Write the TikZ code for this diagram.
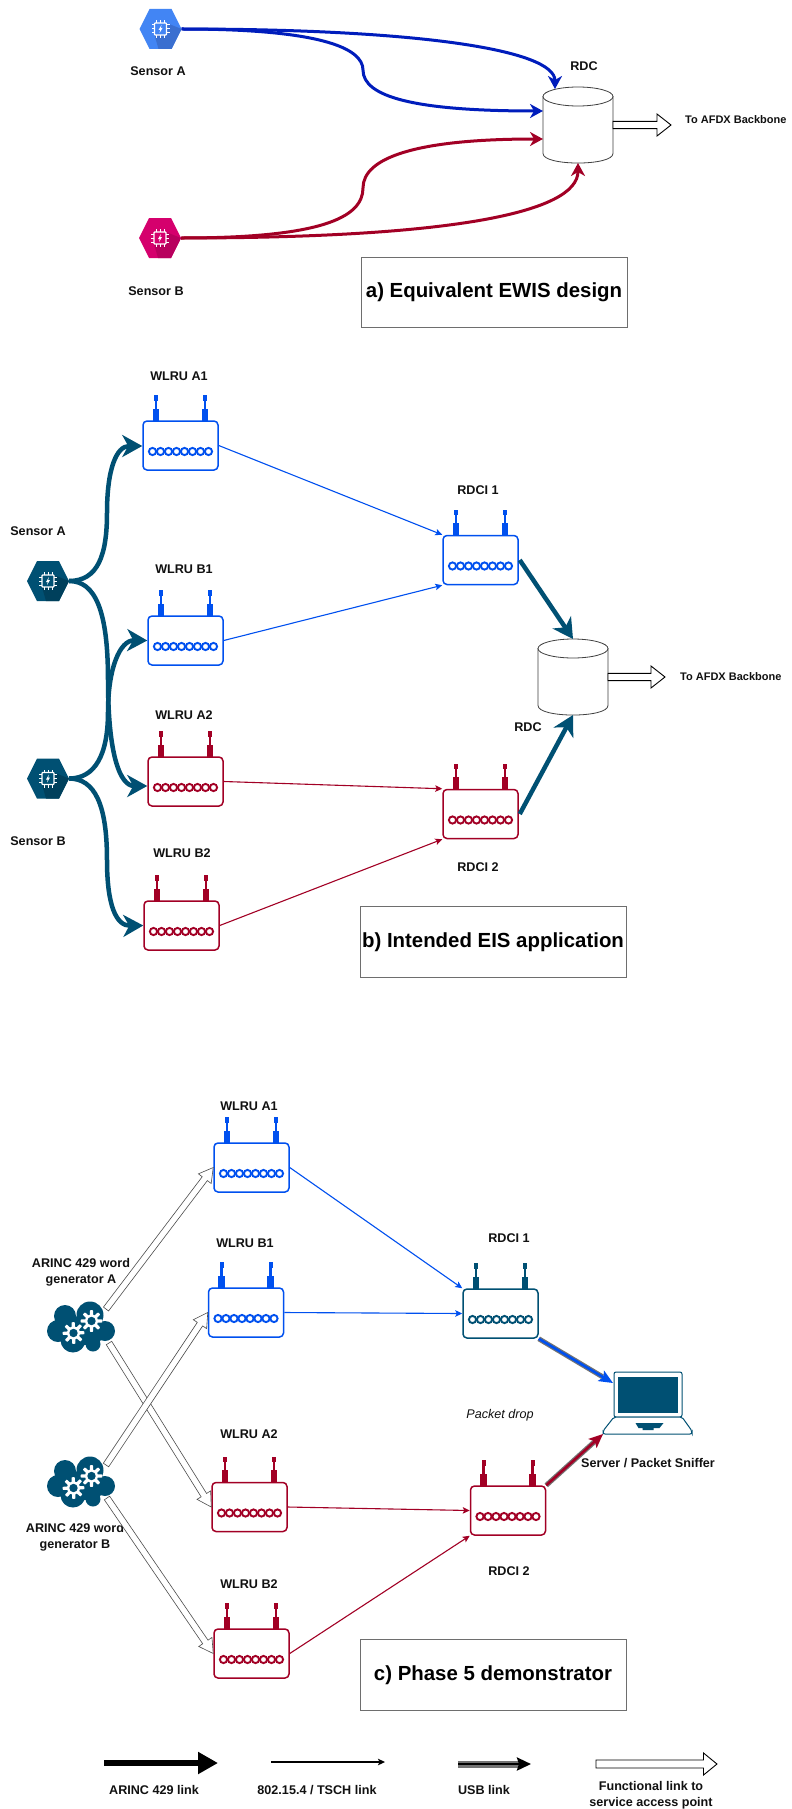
\documentclass[tikz,border=0pt]{standalone}
\usepackage{fontspec}
\setmainfont{Liberation Sans}
\usetikzlibrary{arrows.meta,calc,shapes.geometric}
\definecolor{cblue}{HTML}{0050EF}
\definecolor{cdblue}{HTML}{001DBC}
\definecolor{ccrim}{HTML}{A20025}
\definecolor{cteal}{HTML}{005073}
\definecolor{ctealdk}{HTML}{00405C}
\definecolor{cgblue}{HTML}{4285F4}
\definecolor{cgbluedk}{HTML}{3A6FD0}
\definecolor{cpink}{HTML}{D5006D}
\definecolor{cpinkdk}{HTML}{B8005E}
\definecolor{cbox}{HTML}{6E6E6E}
\definecolor{ctext}{HTML}{111111}
\tikzset{
  x=1pt,y=-1pt,
  lab/.style={font=\bfseries\fontsize{12.6}{16}\selectfont,text=ctext,align=center,inner sep=0pt},
  smalllab/.style={font=\bfseries\fontsize{11}{13.5}\selectfont,text=ctext,align=center,inner sep=0pt},
  title/.style={draw=cbox,line width=.8pt,fill=white,font=\bfseries\fontsize{20.4}{24}\selectfont,text=black,inner sep=0pt,align=center},
  routerbody/.style={rectangle,rounded corners=4pt,line width=1.5pt,fill=white,minimum width=75pt,minimum height=49pt,inner sep=0pt},
  ghost/.style={rectangle,inner sep=0pt,outer sep=0pt},
  wirea/.style={line width=3pt,-{Stealth[length=13pt,width=14pt,inset=4pt]}},
  wireb/.style={cteal,line width=4.5pt,-{Stealth[length=20pt,width=22pt,inset=6pt]}},
  thin/.style={line width=1.1pt,-{Stealth[length=7pt,width=6.5pt,inset=1.5pt]}},
  openline/.style={draw=black,line width=.9pt,fill=white,line join=miter},
  openthin/.style={draw=black!70,line width=.6pt,fill=white,line join=miter},
  cylline/.style={draw=black!75,line width=.8pt,fill=white},
}
% router: name, x, y, colour
\newcommand{\router}[4]{%
  \begin{scope}[shift={(#2,#3)}]
    \foreach \s in {-1,1}{%
      \fill[#4] ({\s*24.5-3.3},-24) rectangle ({\s*24.5+3.3},-37);
      \fill[#4] ({\s*24.5-1.3},-36) rectangle ({\s*24.5+1.3},-46);
      \fill[#4] ({\s*24.5-2},-45) rectangle ({\s*24.5+2},-50.5);
    }
  \end{scope}
  \node[routerbody,draw=#4] (#1) at (#2,#3) {};
  \begin{scope}[shift={(#2,#3)}]
    \foreach \k in {0,...,7}{%
      \draw[#4,line width=1.9pt,fill=white] ({-28+8*\k},6) circle[radius=3.6pt];
    }
  \end{scope}}
% sensor: name, x, y, half width, half flat, colour, dark colour
\newcommand{\sensor}[7]{%
  \node[ghost,minimum width={2*#4pt},minimum height=40pt] (#1) at (#2,#3) {};
  \begin{scope}[shift={(#2,#3)}]
    \fill[#6] (-#4,0) -- (-#5,-20) -- (#5,-20) -- (#4,0) -- (#5,20) -- (-#5,20) -- cycle;
    \fill[#7] (6,-6) -- (#4,0) -- (#5,20) -- (-2,20) -- (-6,6) -- cycle;
    \draw[white,line width=1.2pt,fill=#6,rounded corners=.8pt] (-6,-6) rectangle (6,6);
    \foreach \p in {-4,0,4}{%
      \draw[white,line width=1pt] (\p,-6) -- (\p,-9) (\p,6) -- (\p,9) (-6,\p) -- (-9,\p) (6,\p) -- (9,\p);
    }
    \fill[white] (1,-4) -- (-2,1) -- (-.2,1) -- (-1,4) -- (2,-1) -- (.2,-1) -- cycle;
  \end{scope}}
% cylinder: name, x, y, half width
\newcommand{\cyl}[4]{%
  \node[ghost,minimum width={2*#4pt},minimum height=76pt] (#1) at (#2,#3) {};
  \begin{scope}[shift={(#2,#3)}]
    \path[cylline] (-#4,-28.5) -- (-#4,28.5) .. controls (-#4,41.2) and (#4,41.2) .. (#4,28.5) -- (#4,-28.5) -- cycle;
    \path[cylline] (0,-28.5) ellipse[x radius=#4pt,y radius=9.5pt];
  \end{scope}}
% gear
\newcommand{\gear}[3]{%
  \fill[white] plot[domain=0:360,samples=121,variable=\t] ({#1+(8.6+2.2*max(min(2.2*cos(8*\t+#3),1),-1))*cos(\t)},{#2+(8.6+2.2*max(min(2.2*cos(8*\t+#3),1),-1))*sin(\t)}) -- cycle;
  \fill[cteal] (#1,#2) circle[radius=4.2pt];}
% cloud: name, x, y
\newcommand{\cloudgen}[3]{%
  \node[ghost,minimum width=68pt,minimum height=51pt] (#1) at (#2,#3) {};
  \begin{scope}[shift={(#2,#3)}]
    \fill[cteal] (-16,-11) circle[radius=11pt] (9,-12) circle[radius=13.5pt]
      (24,4) circle[radius=10pt] (-23,4) circle[radius=11pt]
      (-8,13) circle[radius=12.5pt] (12,17) circle[radius=7.5pt]
      (2,3) circle[radius=15pt] (14,3) circle[radius=12pt];
    \gear{10.5}{-6}{0}
    \gear{-7.5}{6}{15}
  \end{scope}}
% open arrow: style, from, to, half shaft, head length, half head
\newcommand{\openarr}[6]{%
  \coordinate (oab) at ($(#3)!#5!(#2)$);
  \path[#1] ($(#2)!#4!90:(#3)$) -- ($(oab)!#4!-90:(#2)$) -- ($(oab)!#6!-90:(#2)$) -- (#3)
    -- ($(oab)!#6!90:(#2)$) -- ($(oab)!#4!90:(#2)$) -- ($(#2)!#4!-90:(#3)$) -- cycle;}
\begin{document}
\begin{tikzpicture}
\path[use as bounding box,fill=white] (0,0) rectangle (792,1809);

% ---------- a)
\sensor{sa}{160.5}{29}{21}{11}{cgblue}{cgbluedk}
\sensor{sb}{160}{238}{21}{11}{cpink}{cpinkdk}
\node[lab] (lsa) at (158,71) {Sensor A};
\node[lab] (lsb) at (156,291) {Sensor B};
\cyl{rdc}{578}{125}{35}
\node[lab] (lrdc) at (584,66) {RDC};
\coordinate (rdcout) at (rdc.east);
\coordinate (afdx) at ($(rdc.east)+(58,0)$);
\openarr{openline}{rdcout}{afdx}{3.6pt}{14pt}{11pt}
\node[smalllab,anchor=west] (lafdx) at (685,120) {To AFDX Backbone};
\draw[wirea,cdblue] (sa.east) .. controls (420,29) and (555,50) .. ($(rdc.north)+(-23,2)$);
\coordinate (am) at (363,70);
\draw[wirea,cdblue] (sa.east) .. controls (320,29) and (363,48) .. (am) .. controls (363,97) and (415,111) .. ($(rdc.west)+(0,-14)$);
\coordinate (bm) at (363,188);
\draw[wirea,ccrim] (sb.east) .. controls (320,238) and (363,218) .. (bm) .. controls (363,158) and (415,139) .. ($(rdc.west)+(0,14)$);
\draw[wirea,ccrim] (sb.east) .. controls (450,238) and (578,213) .. (rdc.south);
\node[title,minimum width=266pt,minimum height=70pt] (ta) at (494,292) {a) Equivalent EWIS design};

% ---------- b)
\router{ra1}{180.5}{445.5}{cblue}
\router{rb1}{185.5}{640.5}{cblue}
\router{ra2}{185.5}{781.5}{ccrim}
\router{rb2}{181.5}{925.5}{ccrim}
\router{ri1}{480.5}{560}{cblue}
\router{ri2}{480.5}{814}{ccrim}
\sensor{hsa}{48}{581}{21}{11}{cteal}{ctealdk}
\sensor{hsb}{48}{778.5}{21}{11}{cteal}{ctealdk}
\node[lab] (l1) at (38,531) {Sensor A};
\node[lab] (l2) at (38,841) {Sensor B};
\node[lab] (l3) at (179,376) {WLRU A1};
\node[lab] (l4) at (184,569) {WLRU B1};
\node[lab] (l5) at (184,715) {WLRU A2};
\node[lab] (l6) at (182,853) {WLRU B2};
\node[lab] (l7) at (478,490) {RDCI 1};
\node[lab] (l8) at (478,867) {RDCI 2};
\cyl{rdcb}{573}{677}{35}
\node[lab] (l9) at (528,727) {RDC};
\coordinate (rdcbout) at (rdcb.east);
\coordinate (afdxb) at ($(rdcb.east)+(57,0)$);
\openarr{openline}{rdcbout}{afdxb}{3.6pt}{14pt}{11pt}
\node[smalllab,anchor=west] (l10) at (680,677) {To AFDX Backbone};
\coordinate (m1) at (107,513);
\coordinate (m2) at (108,680);
\coordinate (m3) at (108,712);
\coordinate (m4) at (107,860);
\draw[wireb] (hsa.east) .. controls (98,581) and (107,555) .. (m1) .. controls (107,470) and (116,446) .. ($(ra1.west)+(0,.5)$);
\draw[wireb] (hsa.east) .. controls (95,581) and (108,610) .. (m2) .. controls (108,755) and (120,786) .. ($(ra2.west)+(0,4.5)$);
\draw[wireb] (hsb.east) .. controls (95,778.5) and (108,755) .. (m3) .. controls (108,668) and (120,640) .. (rb1.west);
\draw[wireb] (hsb.east) .. controls (95,778.5) and (107,805) .. (m4) .. controls (107,905) and (116,926) .. (rb2.west);
\draw[thin,cblue] (ra1.east) -- (ri1.north west);
\draw[thin,cblue] (rb1.east) -- (ri1.south west);
\draw[thin,ccrim] (ra2.east) -- (ri2.north west);
\draw[thin,ccrim] (rb2.east) -- (ri2.south west);
\draw[wireb] ($(ri1.east)+(1,0)$) -- (rdcb.north);
\draw[wireb] ($(ri2.east)+(1,0)$) -- (rdcb.south);
\node[title,minimum width=266pt,minimum height=71pt] (tb) at (493,942) {b) Intended EIS application};

% ---------- c)
\router{wa1}{251.5}{1167.5}{cblue}
\router{wb1}{246}{1312.5}{cblue}
\router{wa2}{249.5}{1507}{ccrim}
\router{wb2}{251.5}{1653.5}{ccrim}
\router{wi1}{500.5}{1313.5}{cteal}
\router{wi2}{508}{1510.5}{ccrim}
\cloudgen{ca}{81}{1327}
\cloudgen{cb}{81}{1482}
\node[lab] (m5) at (81,1272) {ARINC 429 word\\generator A};
\node[lab] (m6) at (75,1537) {ARINC 429 word\\generator B};
\node[lab] (m7) at (249,1106) {WLRU A1};
\node[lab] (m8) at (245,1243) {WLRU B1};
\node[lab] (m9) at (249,1434) {WLRU A2};
\node[lab] (m10) at (249,1584) {WLRU B2};
\node[lab] (m11) at (509,1238) {RDCI 1};
\node[lab] (m12) at (509,1571) {RDCI 2};
\node[lab] (m13) at (648,1463) {Server / Packet Sniffer};
\node[font=\itshape\fontsize{12.6}{14}\selectfont,text=ctext,inner sep=0pt] (m14) at (500,1415) {Packet drop};
\coordinate (ca1) at ($(ca)+(25,-18)$);
\coordinate (ca2) at ($(ca)+(28,16)$);
\coordinate (cb1) at ($(cb)+(25,-17)$);
\coordinate (cb2) at ($(cb)+(26,16)$);
\openarr{openthin}{ca1}{wa1.west}{3.2pt}{14pt}{8pt}
\openarr{openthin}{ca2}{wa2.west}{3.2pt}{14pt}{8pt}
\openarr{openthin}{cb1}{wb1.west}{3.2pt}{14pt}{8pt}
\openarr{openthin}{cb2}{wb2.west}{3.2pt}{14pt}{8pt}
\draw[thin,cblue] (wa1.east) -- (wi1.north west);
\draw[thin,cblue] (wb1.east) -- (wi1.west);
\draw[thin,ccrim] (wa2.east) -- (wi2.west);
\draw[thin,ccrim] (wb2.east) -- (wi2.south west);
% laptop
\node[ghost,minimum width=89pt,minimum height=62pt] (pc) at (647.5,1403) {};
\begin{scope}[shift={(pc.center)}]
  \draw[cteal,line width=1pt,fill=white,rounded corners=2pt] (-33.5,-31) rectangle (34.5,14);
  \fill[cteal] (-29.5,-26) rectangle (30.5,10);
  \draw[cteal,line width=1pt,fill=white,rounded corners=2pt] (-33.5,14) -- (34.5,14) -- (44.5,28) -- (44.5,31) -- (-44.5,31) -- (-44.5,28) -- cycle;
  \fill[cteal] (-12,20) -- (16,20) -- (12,25) -- (6,25) -- (6,27) -- (-5,27) -- (-5,25) -- (-9,25) -- cycle;
\end{scope}
\coordinate (pct) at ($(pc.north west)+(10,11)$);
\coordinate (pcs) at (pc.south west);
\draw[line width=5pt,black!55,shorten >=12pt] (wi1.south east) -- (pct);
\draw[line width=2.6pt,cblue,-{Stealth[length=14pt,width=12pt,inset=3pt]}] (wi1.south east) -- (pct);
\draw[line width=5pt,black!55,shorten >=12pt] (wi2.north east) -- (pcs);
\draw[line width=2.6pt,ccrim,-{Stealth[length=14pt,width=12pt,inset=3pt]}] (wi2.north east) -- (pcs);
\node[title,minimum width=266pt,minimum height=71pt] (tc) at (493,1675) {c) Phase 5 demonstrator};

% ---------- legend
\coordinate (la1) at (104,1763); \coordinate (la2) at (218,1763);
\coordinate (lb1) at (271,1762); \coordinate (lb2) at (385,1762);
\coordinate (lc1) at (458,1764); \coordinate (lc2) at (531,1764);
\coordinate (ld1) at (596,1764); \coordinate (ld2) at (717,1764);
\draw[line width=5.5pt,black,-{Stealth[length=20pt,width=21pt,inset=0pt]}] (la1) -- (la2);
\draw[thin,black] (lb1) -- (lb2);
\draw[line width=7pt,black!55,shorten >=10pt] (lc1) -- (lc2);
\draw[line width=2.8pt,black,-{Stealth[length=14pt,width=13pt,inset=2pt]}] (lc1) -- (lc2);
\openarr{openline}{ld1}{ld2}{4pt}{13.5pt}{11pt}
\node[lab] (n1) at (154,1790) {ARINC 429 link};
\node[lab] (n2) at (317,1790) {802.15.4 / TSCH link};
\node[lab] (n3) at (484,1790) {USB link};
\node[lab] (n4) at (651,1795) {Functional link to\\service access point};
\end{tikzpicture}
\end{document}
